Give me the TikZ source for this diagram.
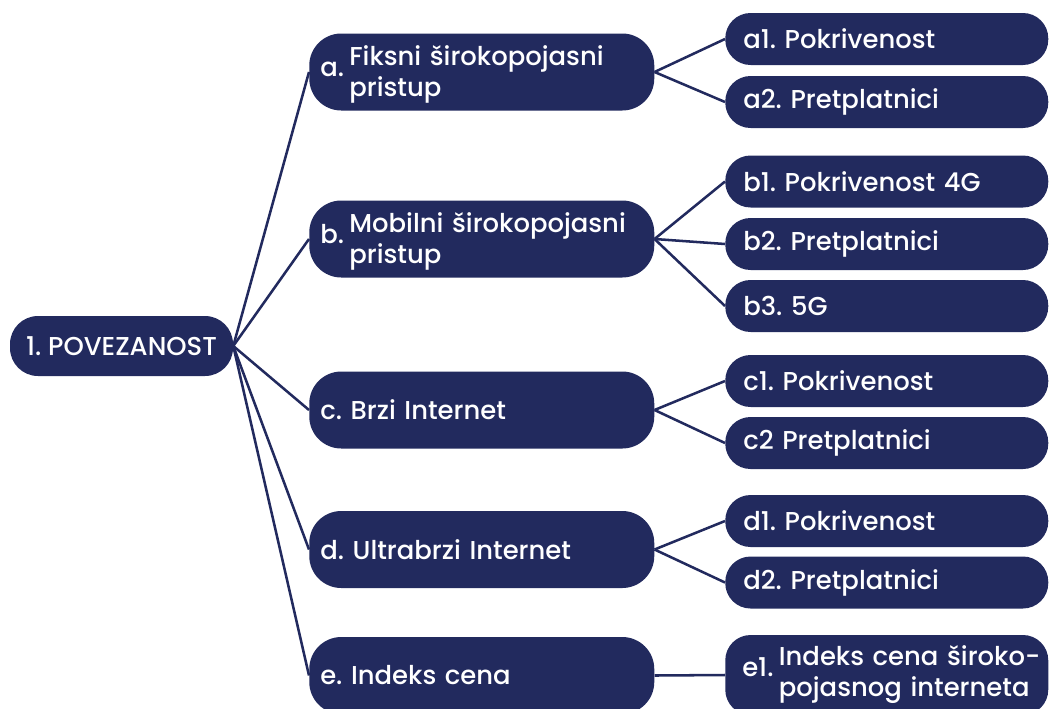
\documentclass[tikz,border=0pt]{standalone}
\usepackage{fontspec}
\setmainfont{Poppins}[UprightFont=* Medium]
\usepackage{tikz}
\usetikzlibrary{positioning}
\definecolor{navy}{RGB}{34,42,94}
\frenchspacing

\begin{document}
\begin{tikzpicture}[x=0.75pt,y=-0.75pt,font=\fontsize{19.4}{23.5}\selectfont,
box/.style={rectangle,fill=navy,text=white,inner ysep=0pt},
rootbox/.style={box,minimum width=167.25pt,minimum height=45pt,inner xsep=12pt,rounded corners=21pt},
catbox/.style={box,anchor=west,minimum height=57.75pt,text width=242.25pt,inner xsep=8.25pt,align=left,rounded corners=24pt},
leafbox/.style={box,anchor=west,minimum height=39pt,text width=215.25pt,inner xsep=13.5pt,align=left,rounded corners=19pt},
link/.style={draw=navy,line width=1.9pt}]

\clip (0,0) rectangle (1049,708);

\node[rootbox](root) at (121.5,346){1. POVEZANOST};

\node[catbox](catA) at (309,72){\rule{0pt}{21pt}\raisebox{-8pt}{a.}\hspace{4pt}\begin{tabular}[t]{@{}l@{}}Fiksni širokopojasni\\pristup\end{tabular}};
\node[catbox](catB) at (309,239){\rule{0pt}{21pt}\raisebox{-8pt}{b.}\hspace{4pt}\begin{tabular}[t]{@{}l@{}}Mobilni širokopojasni\\pristup\end{tabular}};
\node[catbox](catC) at (309,410){c. Brzi Internet};
\node[catbox](catD) at (309,549.5){d. Ultrabrzi Internet};
\node[catbox](catE) at (309,675.5){e. Indeks cena};

\node[leafbox](leafA1) at (725,39){a1. Pokrivenost};
\node[leafbox](leafA2) at (725,102){a2. Pretplatnici};

\node[leafbox](leafB1) at (725,181.5){b1. Pokrivenost 4G};
\node[leafbox](leafB2) at (725,244){b2. Pretplatnici};
\node[leafbox](leafB3) at (725,306){b3. 5G};

\node[leafbox](leafC1) at (725,381){c1. Pokrivenost};
\node[leafbox](leafC2) at (725,443){c2 Pretplatnici};

\node[leafbox](leafD1) at (725,521){d1. Pokrivenost};
\node[leafbox](leafD2) at (725,582.5){d2. Pretplatnici};

\node[leafbox,minimum height=60pt,inner xsep=3pt,text width=236.25pt](leafE1) at (725,675){\hspace*{9.75pt}\raisebox{-8pt}{e1.}\hspace{4pt}\begin{tabular}[t]{@{}l@{}}Indeks cena široko-\\pojasnog interneta\end{tabular}};

\draw[link] (root.east) -- (catA.west);
\draw[link] (root.east) -- (catB.west);
\draw[link] (root.east) -- (catC.west);
\draw[link] (root.east) -- (catD.west);
\draw[link] (root.east) -- (catE.west);

\draw[link] (catA.east) -- (leafA1.west);
\draw[link] (catA.east) -- (leafA2.west);
\draw[link] (catB.east) -- (leafB1.west);
\draw[link] (catB.east) -- (leafB2.west);
\draw[link] (catB.east) -- (leafB3.west);
\draw[link] (catC.east) -- (leafC1.west);
\draw[link] (catC.east) -- (leafC2.west);
\draw[link] (catD.east) -- (leafD1.west);
\draw[link] (catD.east) -- (leafD2.west);
\draw[link] (catE.east) -- (leafE1.west);

\end{tikzpicture}
\end{document}
